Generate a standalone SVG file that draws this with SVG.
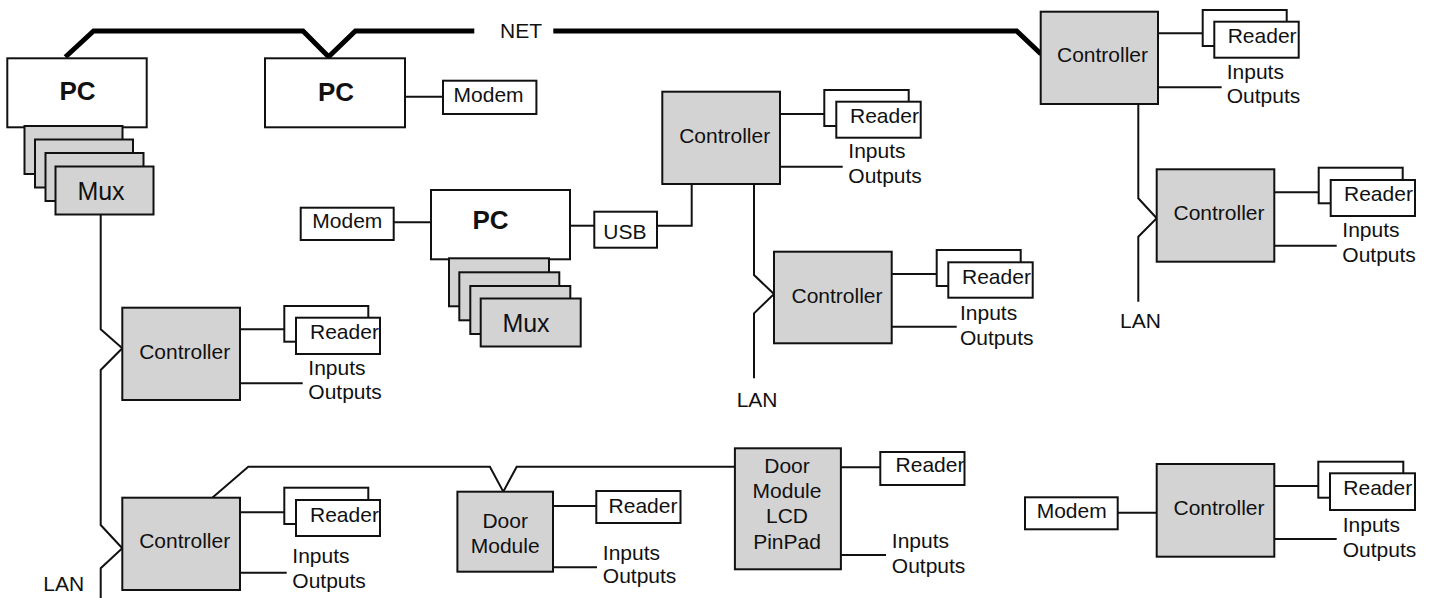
<svg xmlns="http://www.w3.org/2000/svg" width="1432" height="598" viewBox="0 0 1432 598">
  <style>
    .box { fill: #ffffff; stroke: #111; stroke-width: 2; }
    .gray { fill: #d3d3d3; stroke: #111; stroke-width: 2; }
    .wire { fill: none; stroke: #111; stroke-width: 2; }
    .net { fill: none; stroke: #000; stroke-width: 5; stroke-linejoin: miter; }
    text { font-family: "Liberation Sans", Arial, sans-serif; font-size: 21px; fill: #111; }
    .pc { font-weight: bold; font-size: 26px; text-anchor: middle; }
    .mux { font-size: 25px; text-anchor: middle; }
    .mid { text-anchor: middle; }
  </style>

  <!-- connectors -->
  <g id="connectors">
    <!-- NET backbone -->
    <polyline class="net" points="65.4,57 93.6,31 303,31 328.6,56.7 355.4,31 474.3,31"/>
    <polyline class="net" points="553.3,31 1016.7,31 1041,54"/>
    <!-- PC - modem -->
    <line class="wire" x1="405" y1="96.7" x2="443" y2="96.7"/>
    <!-- left mux LAN -->
    <polyline class="wire" points="100.7,214.3 100.7,329.3 122.3,348.3 100.7,370 100.7,525 122.3,548.3 100.7,568.3 100.7,598"/>
    <!-- middle PC -->
    <line class="wire" x1="393.7" y1="222.3" x2="431" y2="222.3"/>
    <line class="wire" x1="570" y1="225.7" x2="594.3" y2="225.7"/>
    <polyline class="wire" points="657,225.7 691.7,225.7 691.7,184"/>
    <!-- middle LAN -->
    <polyline class="wire" points="754,184 754,275 774,294 754,313.3 754,378.3"/>
    <!-- right LAN -->
    <polyline class="wire" points="1138.3,104 1138.3,198.3 1156.7,218.3 1138.3,236.7 1138.3,301.7"/>
    <!-- door module bus -->
    <polyline class="wire" points="212.3,497.7 248.3,466.7 489.9,466.7 503.3,491.7 516.7,466.7 734.9,466.7"/>
    <!-- bottom right modem -->
    <line class="wire" x1="1117.7" y1="512.7" x2="1156.7" y2="512.7"/>

    <!-- reader / IO taps -->
    <line class="wire" x1="1158" y1="33.3" x2="1202.7" y2="33.3"/>
    <line class="wire" x1="1158" y1="87.3" x2="1221.7" y2="87.3"/>
    <line class="wire" x1="1274.3" y1="192.3" x2="1318.7" y2="192.3"/>
    <line class="wire" x1="1274.3" y1="245.7" x2="1336.7" y2="245.7"/>
    <line class="wire" x1="780" y1="114" x2="824.3" y2="114"/>
    <line class="wire" x1="780" y1="166.7" x2="842.7" y2="166.7"/>
    <line class="wire" x1="891.7" y1="274" x2="936.7" y2="274"/>
    <line class="wire" x1="891.7" y1="326.7" x2="956.7" y2="326.7"/>
    <line class="wire" x1="240" y1="329.3" x2="284.3" y2="329.3"/>
    <line class="wire" x1="240" y1="383.3" x2="302.7" y2="383.3"/>
    <line class="wire" x1="240" y1="512.3" x2="284.3" y2="512.3"/>
    <line class="wire" x1="240" y1="572.7" x2="286.7" y2="572.7"/>
    <line class="wire" x1="1274.3" y1="486" x2="1318.3" y2="486"/>
    <line class="wire" x1="1274.3" y1="539" x2="1336.7" y2="539"/>
    <line class="wire" x1="553" y1="506" x2="596.3" y2="506"/>
    <line class="wire" x1="553" y1="567.3" x2="597" y2="567.3"/>
    <line class="wire" x1="841" y1="467.3" x2="880.3" y2="467.3"/>
    <line class="wire" x1="841" y1="555" x2="886" y2="555"/>
  </g>

  <text x="500" y="38.3">NET</text>
  <text x="43.3" y="590.7">LAN</text>
  <text x="736.7" y="406.7">LAN</text>
  <text x="1120" y="328">LAN</text>

  <!-- PCs -->
  <g id="pc-left">
    <rect class="box" x="7.3" y="58.3" width="139.4" height="69"/>
    <text class="pc" x="77.5" y="100">PC</text>
  </g>
  <g id="mux-left">
    <rect class="gray" x="24.5" y="126" width="98" height="48"/>
    <rect class="gray" x="35" y="139.5" width="98" height="48"/>
    <rect class="gray" x="45.5" y="153" width="98" height="48"/>
    <rect class="gray" x="55.5" y="166.5" width="98" height="48"/>
    <text class="mux" x="101" y="200">Mux</text>
  </g>
  <g id="pc-top">
    <rect class="box" x="265" y="58.3" width="140" height="69"/>
    <text class="pc" x="336" y="100.5">PC</text>
  </g>
  <g id="modem-top">
    <rect class="box" x="443" y="80.7" width="93.4" height="33.3"/>
    <text x="453.6" y="101.7">Modem</text>
  </g>
  <g id="pc-mid">
    <rect class="box" x="431" y="190" width="139" height="69.3"/>
    <text class="pc" x="490.5" y="228.5">PC</text>
  </g>
  <g id="mux-mid">
    <rect class="gray" x="449" y="258.3" width="100" height="48"/>
    <rect class="gray" x="459.3" y="272.3" width="100" height="48"/>
    <rect class="gray" x="470.3" y="286" width="100" height="48"/>
    <rect class="gray" x="480.7" y="298.5" width="100" height="48"/>
    <text class="mux" x="526" y="331.7">Mux</text>
  </g>
  <g id="modem-mid">
    <rect class="box" x="300.7" y="207.7" width="93" height="32.3"/>
    <text x="312.3" y="228">Modem</text>
  </g>
  <g id="usb">
    <rect class="box" x="594.3" y="211.7" width="62.7" height="36"/>
    <text x="603.3" y="239">USB</text>
  </g>

  <!-- controllers -->
  <g id="ctrl-top-right">
    <rect class="gray" x="1040.7" y="11.7" width="117.3" height="92.3"/>
    <text class="mid" x="1102.5" y="62">Controller</text>
  </g>
  <g id="reader-top-right">
    <rect class="box" x="1202.7" y="10" width="84" height="36"/>
    <rect class="box" x="1214.3" y="21.7" width="84.4" height="36"/>
    <text x="1227.7" y="43">Reader</text>
  </g>
  <text x="1226.7" y="79">Inputs</text>
  <text x="1226.7" y="103">Outputs</text>

  <g id="ctrl-right">
    <rect class="gray" x="1156.7" y="169.3" width="117.6" height="92.4"/>
    <text class="mid" x="1219" y="220">Controller</text>
  </g>
  <g id="reader-right">
    <rect class="box" x="1318.7" y="167.7" width="84" height="35.6"/>
    <rect class="box" x="1330.7" y="180" width="84.3" height="36"/>
    <text x="1344" y="201">Reader</text>
  </g>
  <text x="1342.3" y="237">Inputs</text>
  <text x="1342.3" y="261.7">Outputs</text>

  <g id="ctrl-mid-top">
    <rect class="gray" x="662.3" y="91.7" width="117.7" height="92.3"/>
    <text class="mid" x="724.7" y="142.7">Controller</text>
  </g>
  <g id="reader-mid-top">
    <rect class="box" x="824.3" y="90" width="84.4" height="36"/>
    <rect class="box" x="836.3" y="101.7" width="84.4" height="36"/>
    <text x="850" y="122.7">Reader</text>
  </g>
  <text x="848.3" y="158.3">Inputs</text>
  <text x="848.3" y="183.3">Outputs</text>

  <g id="ctrl-mid">
    <rect class="gray" x="774" y="251.7" width="117.7" height="91.6"/>
    <text class="mid" x="837" y="302.7">Controller</text>
  </g>
  <g id="reader-mid">
    <rect class="box" x="936.7" y="250" width="84" height="36"/>
    <rect class="box" x="948.3" y="262.3" width="84.4" height="35.4"/>
    <text x="962" y="283.5">Reader</text>
  </g>
  <text x="960" y="320">Inputs</text>
  <text x="960" y="345">Outputs</text>

  <g id="ctrl-left-1">
    <rect class="gray" x="122.3" y="307.7" width="117.7" height="92.3"/>
    <text class="mid" x="184.7" y="359.3">Controller</text>
  </g>
  <g id="reader-left-1">
    <rect class="box" x="284.3" y="306" width="84" height="35.7"/>
    <rect class="box" x="296" y="317.7" width="84" height="36.3"/>
    <text x="310" y="339.3">Reader</text>
  </g>
  <text x="308.3" y="375">Inputs</text>
  <text x="308.3" y="399.3">Outputs</text>

  <g id="ctrl-left-2">
    <rect class="gray" x="122.3" y="497.7" width="117.7" height="92.3"/>
    <text class="mid" x="184.7" y="548.3">Controller</text>
  </g>
  <g id="reader-left-2">
    <rect class="box" x="284.3" y="487.7" width="84" height="36.3"/>
    <rect class="box" x="296" y="500" width="84" height="36"/>
    <text x="310" y="521.5">Reader</text>
  </g>
  <text x="292.3" y="563.3">Inputs</text>
  <text x="292.3" y="588.3">Outputs</text>

  <g id="door-module">
    <rect class="gray" x="457.4" y="491.7" width="95.6" height="80"/>
    <text class="mid" x="505.2" y="528.3">Door</text>
    <text class="mid" x="505.2" y="553.3">Module</text>
  </g>
  <g id="reader-door">
    <rect class="box" x="596.3" y="491" width="84.2" height="32"/>
    <text x="608.6" y="512.5">Reader</text>
  </g>
  <text x="602.8" y="560">Inputs</text>
  <text x="602.8" y="583.3">Outputs</text>

  <g id="door-module-lcd">
    <rect class="gray" x="734.9" y="448.3" width="106" height="121"/>
    <text class="mid" x="787" y="472.7">Door</text>
    <text class="mid" x="787" y="498.3">Module</text>
    <text class="mid" x="787" y="523.3">LCD</text>
    <text class="mid" x="787" y="549.3">PinPad</text>
  </g>
  <g id="reader-door-lcd">
    <rect class="box" x="880.3" y="452" width="84.2" height="33"/>
    <text x="895.6" y="472">Reader</text>
  </g>
  <text x="891.8" y="548.3">Inputs</text>
  <text x="891.8" y="573.3">Outputs</text>

  <g id="modem-bottom-right">
    <rect class="box" x="1025" y="497.3" width="92.7" height="32"/>
    <text x="1036.7" y="518.3">Modem</text>
  </g>
  <g id="ctrl-bottom-right">
    <rect class="gray" x="1156.7" y="464" width="117.6" height="92.7"/>
    <text class="mid" x="1219" y="515">Controller</text>
  </g>
  <g id="reader-bottom-right">
    <rect class="box" x="1318.3" y="461.7" width="85" height="36"/>
    <rect class="box" x="1330" y="473.3" width="85" height="36.7"/>
    <text x="1343.3" y="495">Reader</text>
  </g>
  <text x="1342.7" y="531.7">Inputs</text>
  <text x="1342.7" y="556.7">Outputs</text>
</svg>
